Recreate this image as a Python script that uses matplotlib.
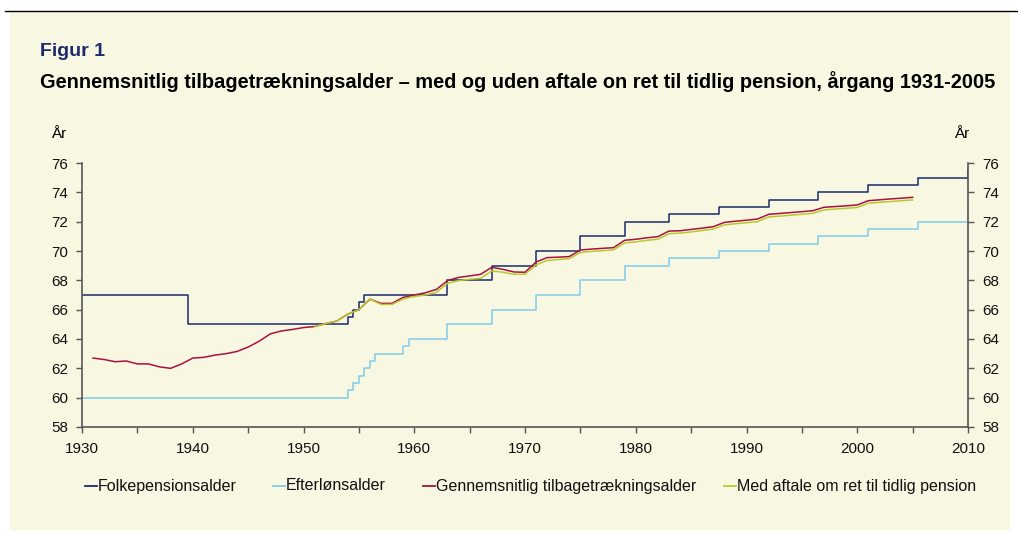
import numpy as np
import matplotlib
matplotlib.use("Agg")
import matplotlib.pyplot as plt
from matplotlib.ticker import MultipleLocator

plt.rcParams['font.family'] = ['Liberation Sans', 'DejaVu Sans']

# --- data ---
folk_x = [1930, 1939.6, 1954, 1954.5, 1955, 1955.5, 1963, 1967, 1971, 1975, 1979,
          1983, 1987.5, 1992, 1996.5, 2001, 2005.5, 2010]
folk_y = [67, 65, 65.5, 66, 66.5, 67, 68, 69, 70, 71, 72,
          72.5, 73, 73.5, 74, 74.5, 75, 75.5]

eftl_x = [1930, 1954, 1954.5, 1955, 1955.5, 1956, 1956.5, 1959, 1959.5, 1963, 1967,
          1971, 1975, 1979, 1983, 1987.5, 1992, 1996.5, 2001, 2005.5, 2010]
eftl_y = [60, 60.5, 61, 61.5, 62, 62.5, 63, 63.5, 64, 65, 66,
          67, 68, 69, 69.5, 70, 70.5, 71, 71.5, 72, 72.5]

gns_years = list(range(1931, 2006))
gns_y = [62.7, 62.6, 62.45, 62.5, 62.3, 62.3, 62.1, 62.0, 62.3, 62.7,
         62.75, 62.9, 63.0, 63.15, 63.45, 63.85, 64.35, 64.55, 64.65, 64.78,
         64.85, 65.05, 65.22, 65.7, 66.0, 66.72, 66.43, 66.43, 66.84, 67.0,
         67.15, 67.38, 67.98, 68.2, 68.3, 68.41, 68.89, 68.75, 68.57, 68.55,
         69.25, 69.55, 69.58, 69.62, 70.07, 70.13, 70.18, 70.23, 70.73, 70.8,
         70.9, 70.98, 71.36, 71.38, 71.47, 71.56, 71.66, 71.95, 72.03, 72.1,
         72.18, 72.5, 72.56, 72.62, 72.68, 72.75, 72.98, 73.03, 73.08, 73.14,
         73.43, 73.49, 73.55, 73.6, 73.66]

aft_years = list(range(1951, 2006))
aft_y = [64.85, 65.05, 65.22, 65.7, 66.0, 66.72, 66.36, 66.36, 66.73, 66.9,
         67.0, 67.18, 67.8, 67.98, 68.07, 68.14, 68.64, 68.55, 68.41, 68.41,
         69.05, 69.35, 69.42, 69.48, 69.9, 69.97, 70.02, 70.08, 70.55, 70.62,
         70.73, 70.8, 71.18, 71.22, 71.3, 71.4, 71.5, 71.78, 71.86, 71.93,
         72.0, 72.32, 72.38, 72.44, 72.5, 72.57, 72.8, 72.86, 72.91, 72.97,
         73.26, 73.32, 73.37, 73.43, 73.48]

labels = ["Folkepensionsalder", "Efterlønsalder",
          "Gennemsnitlig tilbagetrækningsalder",
          "Med aftale om ret til tidlig pension"]
colors = ["#1c2a6b", "#80cbe9", "#a8123e", "#b8c92c"]

W, H = 1018, 533
bg = "#f8f7e1"
fig = plt.figure(figsize=(W / 100, H / 100), dpi=100)
fig.patch.set_facecolor("white")
fig.patches.append(plt.Rectangle((10 / W, 3 / H), 1000 / W, 519 / H,
                                 transform=fig.transFigure, facecolor=bg,
                                 edgecolor="none", zorder=-5))
fig.add_artist(plt.Line2D([5 / W, 1], [1 - 11 / H] * 2, color="black", lw=1.0))

ax = fig.add_axes([82 / W, 1 - 427 / H, 886 / W, 264 / H])
ax.set_facecolor(bg)

ax.step(folk_x, folk_y, where="post", color=colors[0], lw=1.1)
ax.step(eftl_x, eftl_y, where="post", color=colors[1], lw=1.1)
ax.plot(aft_years, aft_y, color=colors[3], lw=1.1, zorder=3)
ax.plot(gns_years, gns_y, color=colors[2], lw=1.1, zorder=2)

ax.set_xlim(1930, 2010)
ax.set_ylim(58, 76)
ax.xaxis.set_major_locator(MultipleLocator(10))
ax.xaxis.set_minor_locator(MultipleLocator(5))
ax.yaxis.set_major_locator(MultipleLocator(2))
ax.tick_params(axis="both", which="both", direction="out", colors="#555555",
               labelcolor="#111111", labelsize=11, length=4, width=1)
ax.tick_params(axis="y", right=True, labelright=True, pad=6)
ax.tick_params(axis="x", which="major", pad=7)
ax.spines["top"].set_visible(False)
for s in ["left", "right", "bottom"]:
    ax.spines[s].set_color("#555555")
    ax.spines[s].set_linewidth(1.2)

fig.text(40 / W, 1 - 51 / H, "Figur 1", color="#1c2a6b", fontsize=14,
         fontweight="bold", va="center")
fig.text(40 / W, 1 - 82 / H,
         "Gennemsnitlig tilbagetrækningsalder – med og uden aftale on ret til tidlig pension, årgang 1931-2005",
         color="black", fontsize=14.4, fontweight="bold", va="center")
fig.text(59 / W, 1 - 134 / H, "År", fontsize=11, ha="center", va="center")
fig.text(962 / W, 1 - 134 / H, "År", fontsize=11, ha="center", va="center")

# legend drawn by hand so all labels share one baseline
leg_x = [85, 273, 423, 724]
for x0, lab, c in zip(leg_x, labels, colors):
    fig.add_artist(plt.Line2D([x0 / W, (x0 + 12) / W], [1 - 486 / H] * 2,
                              color=c, lw=1.3))
    fig.text((x0 + 13) / W, 1 - 490.5 / H, lab, fontsize=11.5, color="#111111",
             ha="left", va="baseline")

fig.savefig("out.png", dpi=100, facecolor="white")
